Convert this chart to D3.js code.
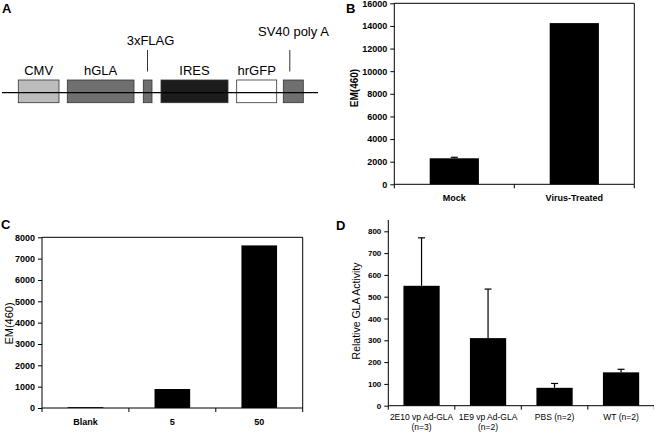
<!DOCTYPE html>
<html><head><meta charset="utf-8">
<script src="https://cdn.jsdelivr.net/npm/d3@7"></script>
<style>body{margin:0;background:#fff}svg{display:block}text{font-family:"Liberation Sans",Arial,sans-serif;fill:#000}</style>
</head><body><svg id="c" width="654" height="434"></svg>
<script>
// ---------- Panel A: construct schematic (construct units) ----------
const elementNames = ["CMV", "hGLA", "", "IRES", "hrGFP", ""];
const elementStart = [18.3, 67.3, 143.3, 161, 236.7, 283.3];
const elementEnd   = [59, 134, 152, 228, 276.7, 303.3];
const elementFills = ["#bcbcbc", "#6f6f6f", "#6f6f6f", "#1c1c1c", "#ffffff", "#6f6f6f"];
const calloutNames = ["3xFLAG", "SV40 poly A"];
const calloutAt    = [147.5, 289.8];

// ---------- Panel B ----------
const bCategories = ["Mock", "Virus-Treated"];
const bValues = [2300, 14250];
const bErrors = [90, 0];
const bTicks = [0, 2000, 4000, 6000, 8000, 10000, 12000, 14000, 16000];

// ---------- Panel C ----------
const cCategories = ["Blank", "5", "50"];
const cValues = [40, 890, 7620];
const cTicks = [0, 1000, 2000, 3000, 4000, 5000, 6000, 7000, 8000];

// ---------- Panel D ----------
const dCategories = ["2E10 vp Ad-GLA|(n=3)", "1E9 vp Ad-GLA|(n=2)", "PBS (n=2)", "WT (n=2)"];
const dValues = [550, 310, 82, 153];
const dErrors = [220, 225, 20, 14];
const dTicks = [0, 100, 200, 300, 400, 500, 600, 700, 800];

const svg = d3.select("#c");
svg.append("rect").attr("width", 654).attr("height", 434).attr("fill", "#fff");

function panelLetter(t, x, y) {
  svg.append("text").attr("x", x).attr("y", y).text(t)
    .attr("font-size", 13).attr("font-weight", "bold");
}

// ---- Panel A ----
(function () {
  const g = svg.append("g");
  const sx = d3.scaleLinear().domain([0, 320]).range([0, 320]);
  const yMid = 92.7, yTop = 80, yBot = 102.7;
  elementNames.forEach((n, i) => {
    g.append("rect").attr("x", sx(elementStart[i])).attr("y", yTop)
      .attr("width", sx(elementEnd[i]) - sx(elementStart[i])).attr("height", yBot - yTop)
      .attr("fill", elementFills[i]).attr("stroke", "#333").attr("stroke-width", 0.8);
    if (n) g.append("text").attr("x", sx((elementStart[i] + elementEnd[i]) / 2)).attr("y", 75)
      .attr("text-anchor", "middle").attr("font-size", 13).text(n);
  });
  g.append("line").attr("x1", sx(2)).attr("x2", sx(318)).attr("y1", yMid).attr("y2", yMid)
    .attr("stroke", "#000").attr("stroke-width", 1.2);
  calloutNames.forEach((n, i) => {
    g.append("line").attr("x1", sx(calloutAt[i])).attr("x2", sx(calloutAt[i]))
      .attr("y1", 50).attr("y2", 71.5).attr("stroke", "#333").attr("stroke-width", 1);
    if (i === 0) g.append("text").attr("x", sx(calloutAt[i]) + 3).attr("y", 44.5)
      .attr("text-anchor", "middle").attr("font-size", 13).text(n);
    else g.append("text").attr("x", 258).attr("y", 36)
      .attr("font-size", 13).text(n);
  });
  panelLetter("A", 2, 13);
})();

function barPanel(o) {
  const g = svg.append("g");
  const x = d3.scaleBand().domain(o.cats).range([o.x0, o.x1])
    .paddingInner(o.pad).paddingOuter(o.pad / 2);
  const xi = d3.scaleLinear().domain([0, o.cats.length]).range([o.x0, o.x1]);
  const y = d3.scaleLinear().domain([0, o.max]).range([o.y0, o.y1]);

  g.selectAll("rect.bar").data(o.vals).join("rect").attr("class", "bar")
    .attr("x", (d, i) => x(o.cats[i])).attr("width", x.bandwidth())
    .attr("y", d => y(d)).attr("height", d => y(0) - y(d)).attr("fill", "#000");
  o.vals.forEach((v, i) => {
    const e = o.errs ? o.errs[i] : 0;
    if (!e) return;
    const cx = x(o.cats[i]) + x.bandwidth() / 2;
    g.append("line").attr("x1", cx).attr("x2", cx).attr("y1", y(v)).attr("y2", y(v + e))
      .attr("stroke", "#000").attr("stroke-width", 1.2);
    g.append("line").attr("x1", cx - 3.5).attr("x2", cx + 3.5).attr("y1", y(v + e)).attr("y2", y(v + e))
      .attr("stroke", "#000").attr("stroke-width", 1.2);
  });

  const ya = g.append("g").attr("transform", `translate(${o.x0},0)`)
    .call(d3.axisLeft(y).tickValues(o.ticks).tickFormat(d3.format("d"))
      .tickSize(4).tickSizeOuter(0).tickPadding(3));
  ya.select(".domain").remove();
  ya.selectAll(".tick line").attr("stroke", "#000");
  ya.selectAll("text").attr("font-size", o.tickFont).attr("font-weight", o.tickBold ? "bold" : "normal")
    .attr("font-family", '"Liberation Sans",Arial,sans-serif').attr("fill", "#000");
  g.append("line").attr("x1", o.x0).attr("x2", o.x0).attr("y1", o.y0).attr("y2", o.axisTop)
    .attr("stroke", "#000");
  g.append("line").attr("x1", o.x0).attr("x2", o.x1).attr("y1", o.y0).attr("y2", o.y0).attr("stroke", "#000");
  d3.range(o.cats.length + 1).forEach(i => {
    g.append("line").attr("x1", xi(i)).attr("x2", xi(i)).attr("y1", o.y0).attr("y2", o.y0 + 4)
      .attr("stroke", "#000");
  });
  if (o.box) {
    g.append("line").attr("x1", o.x0).attr("x2", o.x1).attr("y1", o.y1).attr("y2", o.y1).attr("stroke", "#000");
    g.append("line").attr("x1", o.x1).attr("x2", o.x1).attr("y1", o.y1).attr("y2", o.y0).attr("stroke", "#000");
  }
  o.cats.forEach(c => {
    const lines = c.split("|");
    const t = g.append("text").attr("x", x(c) + x.bandwidth() / 2).attr("y", o.labelY)
      .attr("text-anchor", "middle").attr("font-size", o.catFont)
      .attr("font-weight", o.catBold ? "bold" : "normal");
    lines.forEach((l, k) => t.append("tspan").attr("x", x(c) + x.bandwidth() / 2)
      .attr("dy", k ? o.catFont * 1.25 : 0).text(l));
  });
  g.append("text").attr("transform", `translate(${o.ylx},${o.yly}) rotate(-90)`)
    .attr("text-anchor", "middle").attr("font-size", o.ylFont)
    .attr("font-weight", o.ylBold ? "bold" : "normal").text(o.ylabel);
}

barPanel({cats: bCategories, vals: bValues, errs: bErrors, ticks: bTicks, max: 16000,
  x0: 394.3, x1: 634.3, y0: 184.3, y1: 3.3, axisTop: 3.3, pad: 0.59, box: true,
  tickFont: 9, tickBold: true, catFont: 9, catBold: true, labelY: 201,
  ylabel: "EM(460)", ylx: 357.5, yly: 88, ylFont: 10, ylBold: true});
panelLetter("B", 346, 13);

barPanel({cats: cCategories, vals: cValues, ticks: cTicks, max: 8000,
  x0: 42, x1: 302.7, y0: 408, y1: 237.3, axisTop: 237.3, pad: 0.59, box: true,
  tickFont: 9, tickBold: true, catFont: 9, catBold: true, labelY: 425,
  ylabel: "EM(460)", ylx: 13, yly: 323.5, ylFont: 11, ylBold: false});
panelLetter("C", 1, 229);

barPanel({cats: dCategories, vals: dValues, errs: dErrors, ticks: dTicks, max: 800,
  x0: 388.3, x1: 654.3, y0: 405.7, y1: 231.3, axisTop: 220, pad: 0.455, box: false,
  tickFont: 8, tickBold: true, catFont: 8.5, catBold: false, labelY: 419.5,
  ylabel: "Relative GLA Activity", ylx: 360, yly: 311, ylFont: 10.5, ylBold: false});
panelLetter("D", 336, 230);
</script></body></html>
